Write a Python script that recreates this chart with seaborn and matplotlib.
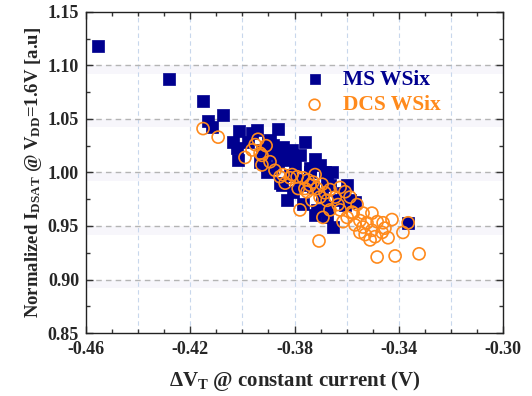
import numpy as np
import pandas as pd
import matplotlib
matplotlib.use('Agg')
import matplotlib.pyplot as plt
import seaborn as sns

# MS WSix (filled squares)
ms_dvt = [-0.4554, -0.4281, -0.4151, -0.4074, -0.4132, -0.4116, -0.4013, -0.3944, -0.3963, -0.3863,
          -0.4036, -0.4020, -0.3902, -0.3882, -0.4017, -0.3932, -0.3905, -0.3856, -0.3817, -0.3779,
          -0.3760, -0.3856, -0.3894, -0.3894, -0.3844, -0.3809, -0.3721, -0.3913, -0.3886, -0.3848,
          -0.3806, -0.3779, -0.3683, -0.3675, -0.3664, -0.3598, -0.3614, -0.3829, -0.3714, -0.3671,
          -0.3587, -0.3817, -0.3740, -0.3729, -0.3767, -0.3740, -0.3656, -0.3568, -0.3721, -0.3652,
          -0.3675, -0.3364, -0.3925, -0.3836, -0.3798, -0.3702, -0.3760, -0.3633, -0.3606, -0.3694,
          -0.3863, -0.3978]
ms_idsat = [1.118, 1.087, 1.067, 1.054, 1.048, 1.042, 1.039, 1.040, 1.037, 1.041,
            1.028, 1.023, 1.028, 1.026, 1.012, 1.010, 1.000, 1.019, 1.014, 1.016,
            1.028, 0.990, 1.018, 1.030, 1.024, 1.021, 1.013, 1.009, 1.004, 0.988,
            0.982, 0.993, 1.000, 0.993, 0.988, 0.988, 0.981, 0.974, 0.965, 0.968,
            0.974, 0.998, 1.000, 0.986, 0.971, 1.004, 1.000, 0.972, 0.960, 0.949,
            0.958, 0.953, 1.021, 1.012, 1.007, 1.007, 0.988, 0.974, 0.970, 0.979,
            1.010, 1.028]

# DCS WSix (open circles)
dcs_dvt = [-0.4151, -0.4093, -0.3951, -0.3963, -0.3990, -0.3932, -0.3894, -0.3875, -0.3856, -0.3817,
           -0.3790, -0.3767, -0.3925, -0.3844, -0.3809, -0.3748, -0.3740, -0.3714, -0.3752, -0.3702,
           -0.3675, -0.3644, -0.3625, -0.3606, -0.3587, -0.3779, -0.3664, -0.3691, -0.3625, -0.3579,
           -0.3560, -0.3729, -0.3694, -0.3760, -0.3683, -0.3614, -0.3575, -0.3537, -0.3522, -0.3503,
           -0.3483, -0.3529, -0.3491, -0.3464, -0.3441, -0.3460, -0.3503, -0.3537, -0.3568, -0.3384,
           -0.3364, -0.3706, -0.3483, -0.3414, -0.3322, -0.3940, -0.3909, -0.3925, -0.3836, -0.3786,
           -0.3733, -0.3664, -0.3633, -0.3598, -0.3549, -0.3510, -0.3426, -0.3453, -0.3549, -0.3721]
dcs_idsat = [1.041, 1.033, 1.026, 1.021, 1.014, 1.018, 1.010, 1.002, 0.996, 0.995,
             0.996, 0.995, 1.016, 0.998, 0.998, 0.993, 0.988, 0.985, 0.982, 0.977,
             0.974, 0.977, 0.986, 0.982, 0.977, 0.965, 0.965, 0.958, 0.965, 0.963,
             0.970, 0.991, 0.989, 0.985, 0.981, 0.954, 0.962, 0.962, 0.953, 0.962,
             0.954, 0.942, 0.940, 0.944, 0.939, 0.953, 0.946, 0.949, 0.951, 0.944,
             0.953, 0.936, 0.921, 0.922, 0.924, 1.031, 1.025, 1.007, 0.990, 0.985,
             0.974, 0.984, 0.970, 0.958, 0.955, 0.937, 0.956, 0.948, 0.944, 0.998]

x_ticks = [-0.46, -0.42, -0.38, -0.34, -0.30]
y_ticks = [0.85, 0.90, 0.95, 1.00, 1.05, 1.10, 1.15]

blue = '#00008f'
orange = '#ff8a1c'

sns.set_style('ticks')
plt.rcParams['font.family'] = ['Liberation Serif', 'DejaVu Serif']
plt.rcParams['font.weight'] = 'bold'
plt.rcParams['mathtext.fontset'] = 'custom'
plt.rcParams['mathtext.rm'] = 'Liberation Serif:bold'
plt.rcParams['mathtext.bf'] = 'Liberation Serif:bold'
plt.rcParams['mathtext.it'] = 'Liberation Serif:bold'

ms = pd.DataFrame({'dvt': ms_dvt, 'idsat': ms_idsat})
dcs = pd.DataFrame({'dvt': dcs_dvt, 'idsat': dcs_idsat})

fig = plt.figure(figsize=(5.32, 3.96), dpi=100)
ax = fig.add_axes([0.1617, 0.159, 0.7838, 0.811])

# faint bands under horizontal grid lines
for v in [0.90, 0.95, 1.00, 1.05, 1.10]:
    ax.axhspan(v - 0.008, v, color='#f7f6fb', lw=0, zorder=0)
for v in np.arange(-0.44, -0.30, 0.02):
    ax.axvline(v, color='#c8d7ec', ls=(0, (4, 3)), lw=0.8, zorder=0.5)
for v in [0.90, 0.95, 1.00, 1.05, 1.10]:
    ax.axhline(v, color='#b4b4b4', ls=(0, (4, 3)), lw=1.0, zorder=0.5)

sns.scatterplot(data=ms, x='dvt', y='idsat', ax=ax, marker='s', s=70, color=blue,
                edgecolor=blue, linewidth=0.5, label='MS WSix', zorder=3)
sns.scatterplot(data=dcs, x='dvt', y='idsat', ax=ax, marker='o', s=75, facecolor='none',
                edgecolor=orange, linewidth=1.2, label='DCS WSix', zorder=4)

ax.set_xlim(-0.46, -0.30)
ax.set_ylim(0.85, 1.15)
ax.set_xticks(x_ticks)
ax.set_xticklabels(['%.2f' % v for v in x_ticks])
ax.set_yticks(y_ticks)
ax.set_yticklabels(['%.2f' % v for v in y_ticks])
ax.set_xticks(np.arange(-0.46, -0.2999, 0.01), minor=True)
ax.set_yticks(np.arange(0.85, 1.1501, 0.025), minor=True)
ax.tick_params(which='both', direction='in', top=True, right=True, width=1.0, color='#333333')
ax.tick_params(which='major', length=5, labelsize=13)
ax.tick_params(axis='x', which='major', pad=6)
ax.tick_params(axis='y', which='major', pad=5)
ax.tick_params(which='minor', length=3)
for sp in ax.spines.values():
    sp.set_linewidth(1.0)
    sp.set_color('#222222')

ax.set_xlabel(r'$\Delta$V$_{\rm T}$ @ constant current (V)', fontsize=15, fontweight='bold', labelpad=8)
ax.set_ylabel(r'Normalized I$_{\rm DSAT}$ @ V$_{\rm DD}$=1.6V [a.u]', fontsize=13.5, fontweight='bold', labelpad=3)

leg = ax.legend(loc='upper left', bbox_to_anchor=(0.45, 0.88), frameon=False, fontsize=15.5,
                handletextpad=0.3, labelspacing=0.25, markerscale=0.9)
for t, c in zip(leg.get_texts(), [blue, orange]):
    t.set_color(c)
    t.set_fontweight('bold')

fig.savefig('out.png', dpi=100)
